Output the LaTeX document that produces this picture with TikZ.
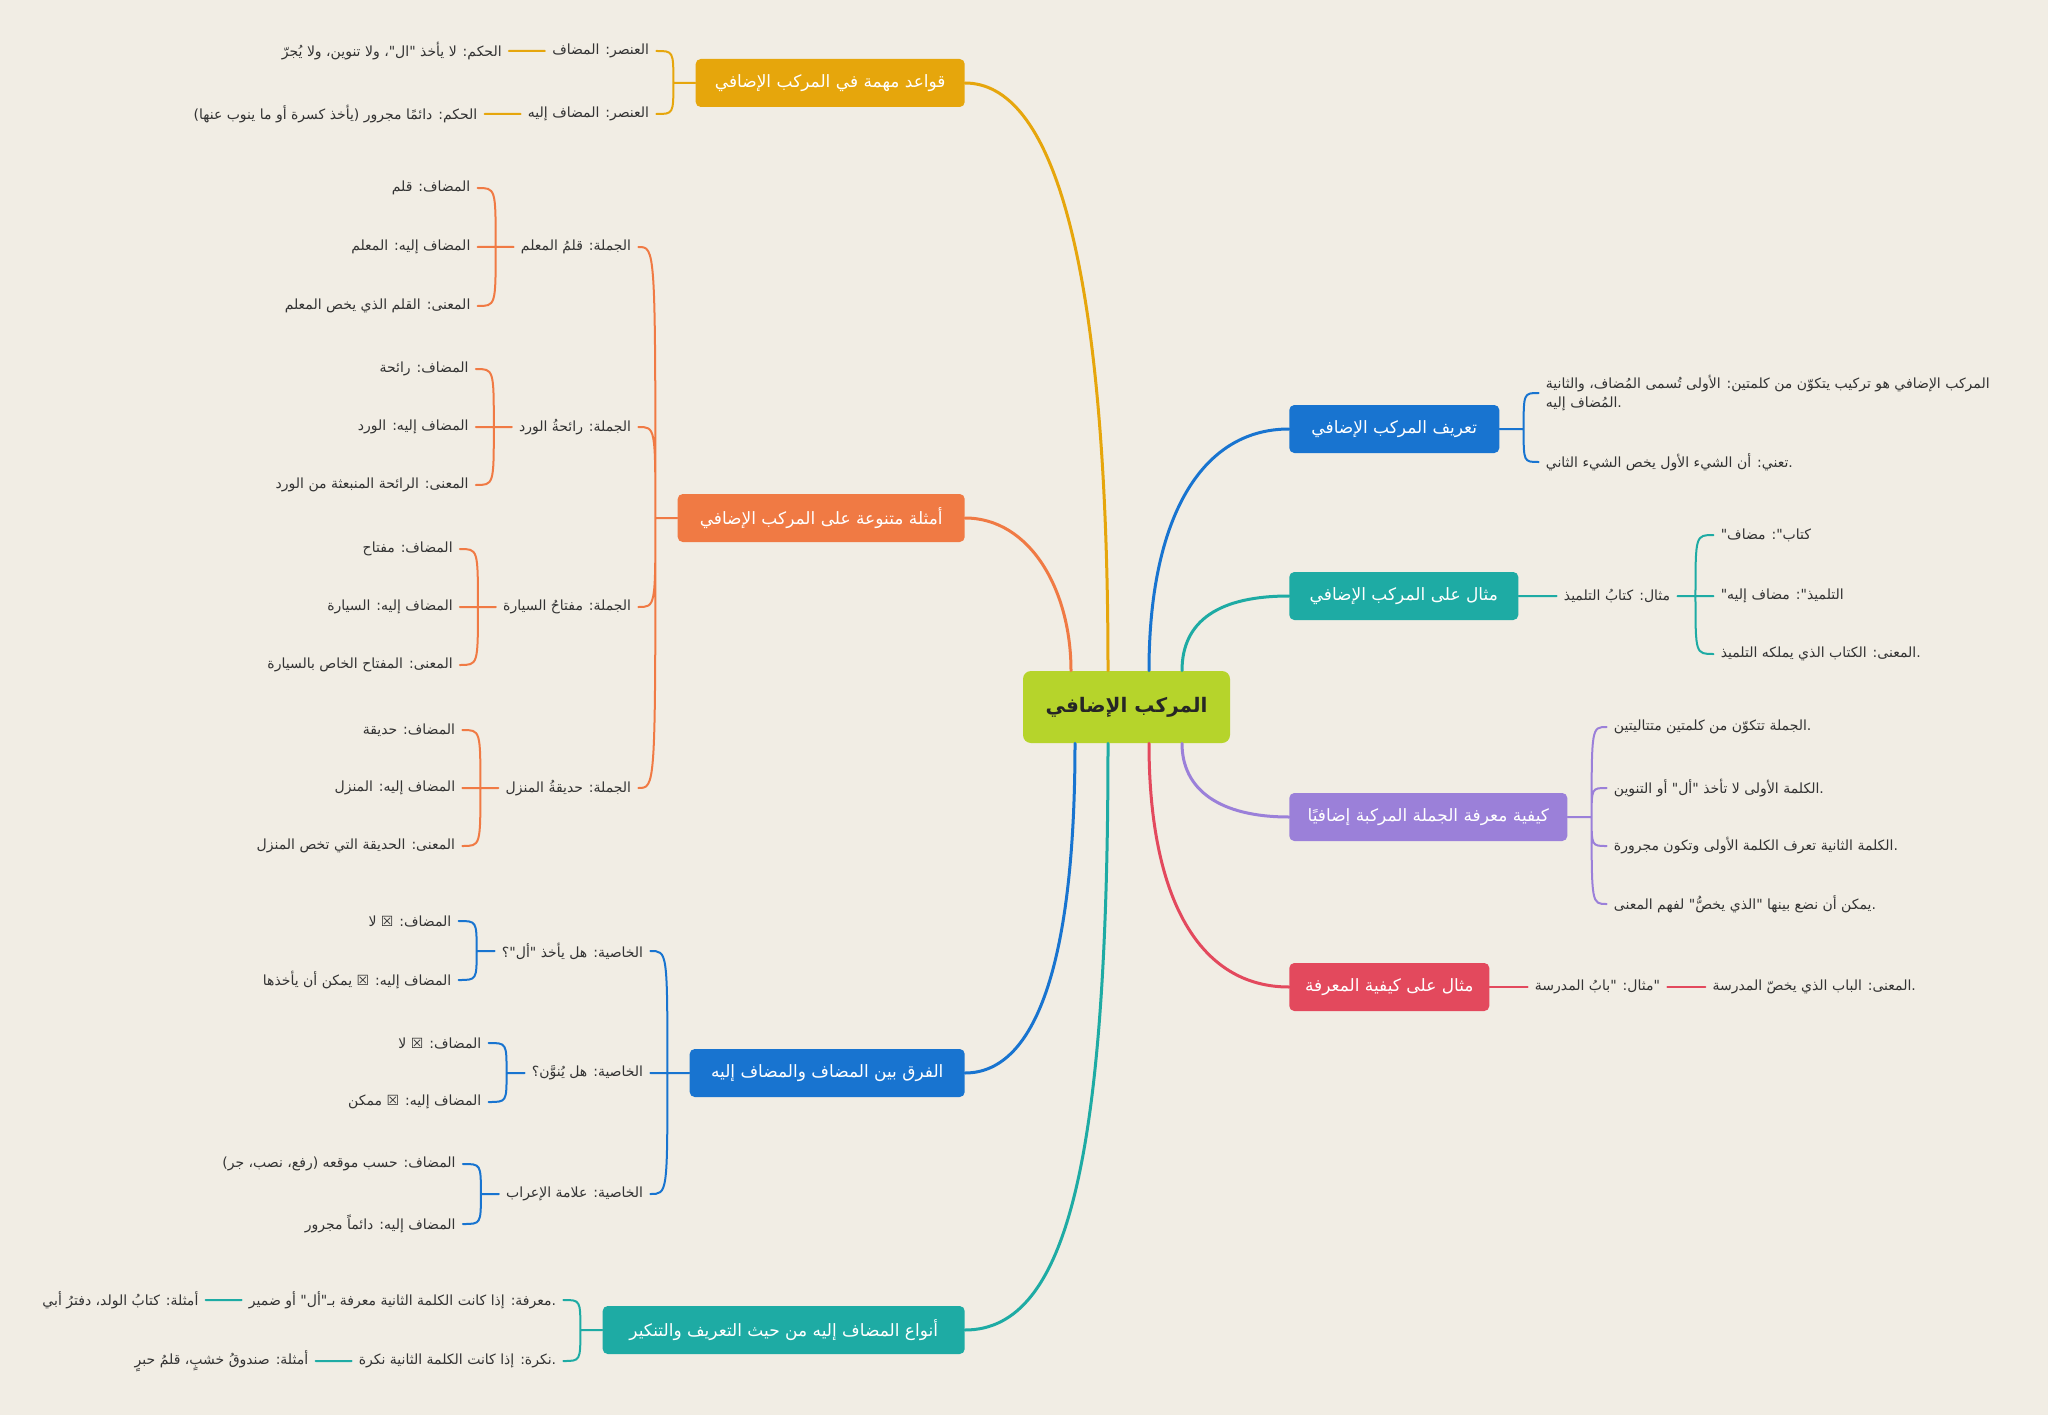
\documentclass[tikz,border=0pt]{standalone}
\usepackage{fontspec}
\usetikzlibrary{positioning}
\newfontfamily\arabicfont[Script=Arabic]{DejaVu Sans}
\TeXXeTstate=1
\newcommand{\AR}[1]{\beginR #1\endR}
\definecolor{paper}{HTML}{F1EDE4}
\definecolor{ink}{HTML}{333333}
\definecolor{mlime}{HTML}{B6D42B}
\definecolor{mgold}{HTML}{E6A60C}
\definecolor{morange}{HTML}{F07A44}
\definecolor{mblue}{HTML}{1874D0}
\definecolor{mteal}{HTML}{1EABA4}
\definecolor{mpurple}{HTML}{9B80D9}
\definecolor{mred}{HTML}{E3495D}

\begin{document}
\begin{tikzpicture}[x=1pt,y=-1pt,semithick,line cap=round,
    main/.style={line width=3pt},
    brace/.style={line width=2pt},
    root/.style={fill=mlime,rounded corners=8pt,minimum width=207pt,minimum height=72pt,
                 text=black!85,font=\arabicfont\fontsize{20}{24}\selectfont\bfseries},
    topic/.style={rounded corners=5pt,minimum height=48pt,inner xsep=10pt,text=white,
                  font=\arabicfont\fontsize{17}{20}\selectfont},
    leaf/.style={text=ink,inner xsep=7pt,inner ysep=2pt,
                 font=\arabicfont\fontsize{14}{19}\selectfont}]

 \useasboundingbox (0,0) rectangle (2048,1415);
 \fill[paper] (0,0) rectangle (2048,1415);

 \node[root] (M) at (1126.5,707) {\AR{المركب الإضافي}};

 % left side
 \node[topic,fill=mgold,minimum width=269pt,anchor=east] (R) at (965,83) {\AR{قواعد مهمة في المركب الإضافي}};
 \coordinate[left=22pt of R] (Rj);
 \node[leaf,left=17pt of Rj,yshift=32pt] (R1) {\AR{العنصر: المضاف}};
 \node[leaf,left=36pt of R1] (R1a) {\AR{الحكم: لا يأخذ "ال"، ولا تنوين، ولا يُجرّ}};
 \node[leaf,left=17pt of Rj,yshift=-31pt] (R2) {\AR{العنصر: المضاف إليه}};
 \node[leaf,left=36pt of R2] (R2a) {\AR{الحكم: دائمًا مجرور (يأخذ كسرة أو ما ينوب عنها)}};

 \node[topic,fill=morange,minimum width=287pt,anchor=east] (E) at (965,518) {\AR{أمثلة متنوعة على المركب الإضافي}};
 \coordinate[left=22pt of E] (Ej);
 \node[leaf,left=17pt of Ej,yshift=271pt] (E1) {\AR{الجملة: قلمُ المعلم}};
 \node[leaf,left=17pt of Ej,yshift=91pt] (E2) {\AR{الجملة: رائحةُ الورد}};
 \node[leaf,left=17pt of Ej,yshift=-89pt] (E3) {\AR{الجملة: مفتاحُ السيارة}};
 \node[leaf,left=17pt of Ej,yshift=-270pt] (E4) {\AR{الجملة: حديقةُ المنزل}};
 \coordinate[left=18pt of E1] (E1j);
 \node[leaf,left=18pt of E1j,yshift=59pt] (E1a) {\AR{المضاف: قلم}};
 \node[leaf,left=18pt of E1j] (E1b) {\AR{المضاف إليه: المعلم}};
 \node[leaf,left=18pt of E1j,yshift=-59pt] (E1c) {\AR{المعنى: القلم الذي يخص المعلم}};
 \coordinate[left=18pt of E2] (E2j);
 \node[leaf,left=18pt of E2j,yshift=58pt] (E2a) {\AR{المضاف: رائحة}};
 \node[leaf,left=18pt of E2j] (E2b) {\AR{المضاف إليه: الورد}};
 \node[leaf,left=18pt of E2j,yshift=-58pt] (E2c) {\AR{المعنى: الرائحة المنبعثة من الورد}};
 \coordinate[left=18pt of E3] (E3j);
 \node[leaf,left=18pt of E3j,yshift=58pt] (E3a) {\AR{المضاف: مفتاح}};
 \node[leaf,left=18pt of E3j] (E3b) {\AR{المضاف إليه: السيارة}};
 \node[leaf,left=18pt of E3j,yshift=-58pt] (E3c) {\AR{المعنى: المفتاح الخاص بالسيارة}};
 \coordinate[left=18pt of E4] (E4j);
 \node[leaf,left=18pt of E4j,yshift=58pt] (E4a) {\AR{المضاف: حديقة}};
 \node[leaf,left=18pt of E4j] (E4b) {\AR{المضاف إليه: المنزل}};
 \node[leaf,left=18pt of E4j,yshift=-58pt] (E4c) {\AR{المعنى: الحديقة التي تخص المنزل}};

 \node[topic,fill=mblue,minimum width=275pt,anchor=east] (D) at (965,1073) {\AR{الفرق بين المضاف والمضاف إليه}};
 \coordinate[left=22pt of D] (Dj);
 \node[leaf,left=17pt of Dj,yshift=122pt] (D1) {\AR{الخاصية: هل يأخذ "أل"؟}};
 \node[leaf,left=17pt of Dj] (D2) {\AR{الخاصية: هل يُنوَّن؟}};
 \node[leaf,left=17pt of Dj,yshift=-121pt] (D3) {\AR{الخاصية: علامة الإعراب}};
 \coordinate[left=18pt of D1] (D1j);
 \node[leaf,left=18pt of D1j,yshift=30pt] (D1a) {\AR{المضاف: ☒ لا}};
 \node[leaf,left=18pt of D1j,yshift=-29pt] (D1b) {\AR{المضاف إليه: ☒ يمكن أن يأخذها}};
 \coordinate[left=18pt of D2] (D2j);
 \node[leaf,left=18pt of D2j,yshift=30pt] (D2a) {\AR{المضاف: ☒ لا}};
 \node[leaf,left=18pt of D2j,yshift=-29pt] (D2b) {\AR{المضاف إليه: ☒ ممكن}};
 \coordinate[left=18pt of D3] (D3j);
 \node[leaf,left=18pt of D3j,yshift=30pt] (D3a) {\AR{المضاف: حسب موقعه (رفع، نصب، جر)}};
 \node[leaf,left=18pt of D3j,yshift=-30pt] (D3b) {\AR{المضاف إليه: دائماً مجرور}};

 \node[topic,fill=mteal,minimum width=362pt,anchor=east] (T) at (965,1330) {\AR{أنواع المضاف إليه من حيث التعريف والتنكير}};
 \coordinate[left=22pt of T] (Tj);
 \node[leaf,left=17pt of Tj,yshift=30pt] (T1) {\AR{معرفة: إذا كانت الكلمة الثانية معرفة بـ"أل" أو ضمير}.};
 \node[leaf,left=36pt of T1] (T1a) {\AR{أمثلة: كتابُ الولد، دفترُ أبي}};
 \node[leaf,left=17pt of Tj,yshift=-31pt] (T2) {\AR{نكرة: إذا كانت الكلمة الثانية نكرة}.};
 \node[leaf,left=36pt of T2] (T2a) {\AR{أمثلة: صندوقُ خشبٍ، قلمُ حبرٍ}};

 % right side
 \node[topic,fill=mblue,minimum width=210pt,anchor=west] (F) at (1289,429) {\AR{تعريف المركب الإضافي}};
 \coordinate[right=24pt of F] (Fj);
 \node[leaf,right=15pt of Fj,yshift=36pt,align=left] (F1) {\AR{المركب الإضافي هو تركيب يتكوّن من كلمتين: الأولى تُسمى المُضاف، والثانية}\\\AR{المُضاف إليه}.};
 \node[leaf,right=15pt of Fj,yshift=-33pt] (F2) {\AR{تعني: أن الشيء الأول يخص الشيء الثاني}.};

 \node[topic,fill=mteal,minimum width=229pt,anchor=west] (X) at (1289,596) {\AR{مثال على المركب الإضافي}};
 \node[leaf,right=38pt of X] (X1) {\AR{مثال: كتابُ التلميذ}};
 \coordinate[right=18pt of X1] (X1j);
 \node[leaf,right=18pt of X1j,yshift=61pt] (X1a) {"\AR{كتاب": مضاف}};
 \node[leaf,right=18pt of X1j] (X1b) {"\AR{التلميذ": مضاف إليه}};
 \node[leaf,right=18pt of X1j,yshift=-58pt] (X1c) {\AR{المعنى: الكتاب الذي يملكه التلميذ}.};

 \node[topic,fill=mpurple,minimum width=278pt,anchor=west] (H) at (1289,817) {\AR{كيفية معرفة الجملة المركبة إضافيًا}};
 \coordinate[right=24pt of H] (Hj);
 \node[leaf,right=15pt of Hj,yshift=90pt] (H1) {\AR{الجملة تتكوّن من كلمتين متتاليتين}.};
 \node[leaf,right=15pt of Hj,yshift=29pt] (H2) {\AR{الكلمة الأولى لا تأخذ "أل" أو التنوين}.};
 \node[leaf,right=15pt of Hj,yshift=-29pt] (H3) {\AR{الكلمة الثانية تعرف الكلمة الأولى وتكون مجرورة}.};
 \node[leaf,right=15pt of Hj,yshift=-87pt] (H4) {\AR{يمكن أن نضع بينها "الذي يخصُّ" لفهم المعنى}.};

 \node[topic,fill=mred,minimum width=200pt,anchor=west] (K) at (1289,987) {\AR{مثال على كيفية المعرفة}};
 \node[leaf,right=38pt of K] (K1) {\AR{مثال: "بابُ المدرسة}"};
 \node[leaf,right=38pt of K1] (K2) {\AR{المعنى: الباب الذي يخصّ المدرسة}.};

 % main branches
 \draw[mgold,main] ([xshift=-18.5pt]M.north) .. controls (1108,250) and (1050,83) .. (R.east);
 \draw[morange,main] ([xshift=-55.5pt]M.north) .. controls (1071,590) and (1030,518) .. (E.east);
 \draw[mblue,main] ([xshift=-51.5pt]M.south) .. controls (1075,950) and (1040,1073) .. (D.east);
 \draw[mteal,main] ([xshift=-18.5pt]M.south) .. controls (1108,1150) and (1070,1330) .. (T.east);
 \draw[mblue,main] ([xshift=22.5pt]M.north) .. controls (1149,520) and (1200,429) .. (F.west);
 \draw[mteal,main] ([xshift=55.5pt]M.north) .. controls (1182,620) and (1220,596) .. (X.west);
 \draw[mpurple,main] ([xshift=55.5pt]M.south) .. controls (1182,790) and (1220,817) .. (H.west);
 \draw[mred,main] ([xshift=22.5pt]M.south) .. controls (1149,900) and (1200,987) .. (K.west);

 % brackets
 \draw[mgold,brace] (R) -- (Rj) (Rj) .. controls (Rj |- R1) .. (R1.east)
                    (Rj) .. controls (Rj |- R2) .. (R2.east) (R1) -- (R1a) (R2) -- (R2a);
 \draw[morange,brace] (E) -- (Ej) (Ej) .. controls (Ej |- E1) .. (E1.east)
                      (Ej) .. controls (Ej |- E2) .. (E2.east)
                      (Ej) .. controls (Ej |- E3) .. (E3.east)
                      (Ej) .. controls (Ej |- E4) .. (E4.east);
 \draw[morange,brace] (E1) -- (E1b) (E1j) .. controls (E1j |- E1a) .. (E1a.east) (E1j) .. controls (E1j |- E1c) .. (E1c.east)
                      (E2) -- (E2b) (E2j) .. controls (E2j |- E2a) .. (E2a.east) (E2j) .. controls (E2j |- E2c) .. (E2c.east)
                      (E3) -- (E3b) (E3j) .. controls (E3j |- E3a) .. (E3a.east) (E3j) .. controls (E3j |- E3c) .. (E3c.east)
                      (E4) -- (E4b) (E4j) .. controls (E4j |- E4a) .. (E4a.east) (E4j) .. controls (E4j |- E4c) .. (E4c.east);
 \draw[mblue,brace] (D) -- (D2) (Dj) .. controls (Dj |- D1) .. (D1.east) (Dj) .. controls (Dj |- D3) .. (D3.east);
 \draw[mblue,brace] (D1) -- (D1j) (D1j) .. controls (D1j |- D1a) .. (D1a.east) (D1j) .. controls (D1j |- D1b) .. (D1b.east)
                    (D2) -- (D2j) (D2j) .. controls (D2j |- D2a) .. (D2a.east) (D2j) .. controls (D2j |- D2b) .. (D2b.east)
                    (D3) -- (D3j) (D3j) .. controls (D3j |- D3a) .. (D3a.east) (D3j) .. controls (D3j |- D3b) .. (D3b.east);
 \draw[mteal,brace] (T) -- (Tj) (Tj) .. controls (Tj |- T1) .. (T1.east)
                    (Tj) .. controls (Tj |- T2) .. (T2.east) (T1) -- (T1a) (T2) -- (T2a);
 \draw[mblue,brace] (F) -- (Fj) (Fj) .. controls (Fj |- F1) .. (F1.west) (Fj) .. controls (Fj |- F2) .. (F2.west);
 \draw[mteal,brace] (X) -- (X1) (X1) -- (X1b) (X1j) .. controls (X1j |- X1a) .. (X1a.west)
                    (X1j) .. controls (X1j |- X1c) .. (X1c.west);
 \draw[mpurple,brace] (H) -- (Hj) (Hj) .. controls (Hj |- H1) .. (H1.west) (Hj) .. controls (Hj |- H2) .. (H2.west)
                      (Hj) .. controls (Hj |- H3) .. (H3.west) (Hj) .. controls (Hj |- H4) .. (H4.west);
 \draw[mred,brace] (K) -- (K1) (K1) -- (K2);

\end{tikzpicture}
\end{document}
